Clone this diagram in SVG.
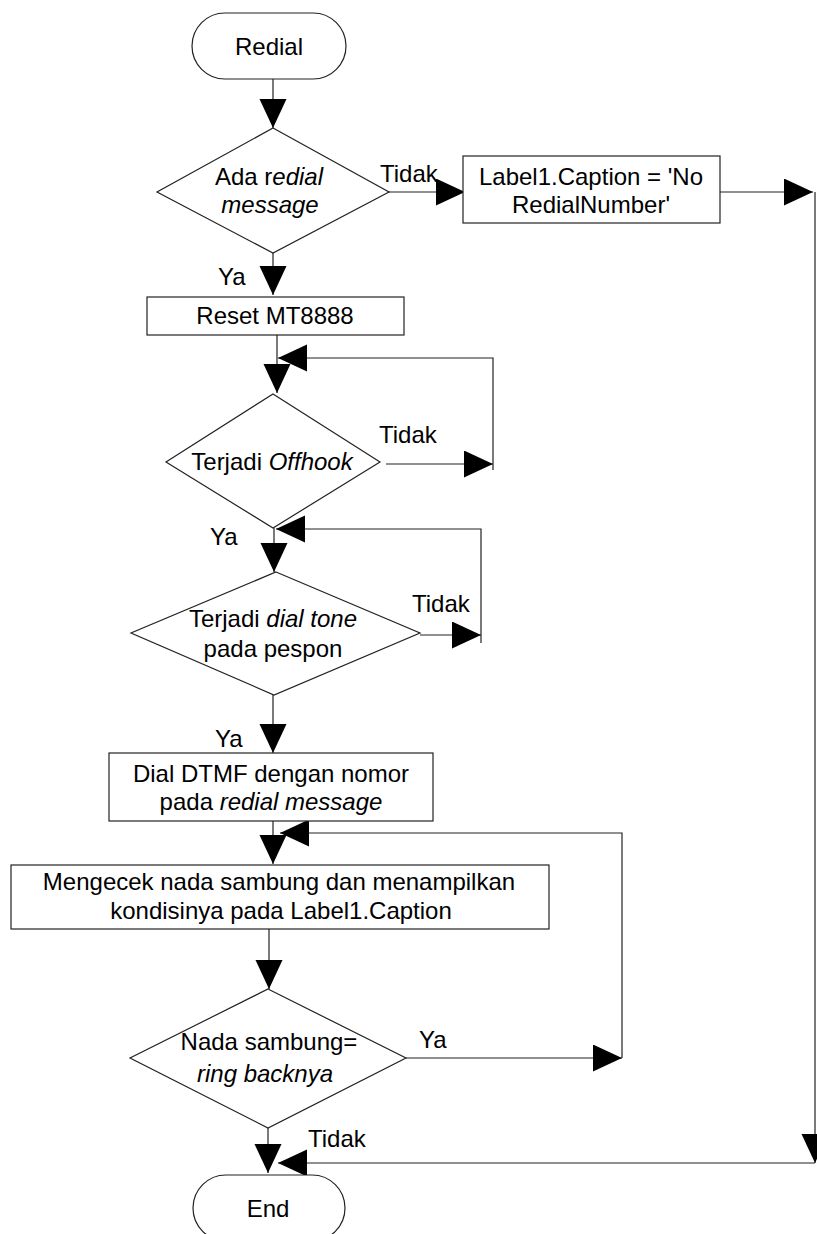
<svg xmlns="http://www.w3.org/2000/svg" width="817" height="1234" viewBox="0 0 817 1234">
<style>
.shape{fill:#fff;stroke:#222;stroke-width:1.2}
.line{fill:none;stroke:#222;stroke-width:1.2}
text{font-family:"Liberation Sans",Arial,sans-serif;font-size:24px;fill:#000}
.c{text-anchor:middle}
.i{font-style:italic}
</style>
<defs>
<marker id="ah" markerUnits="userSpaceOnUse" markerWidth="30" markerHeight="28" refX="29" refY="13.5" orient="auto">
<path d="M0,0 L29,13.5 L0,27 Z" fill="#000"/>
</marker>
</defs>
<rect width="817" height="1234" fill="#fff"/>
<g id="connectors">
<path class="line" d="M273,79 V128" marker-end="url(#ah)"/>
<path class="line" d="M389,192 H465" marker-end="url(#ah)"/>
<path class="line" d="M720,192 H813" marker-end="url(#ah)"/>
<path class="line" d="M815,192 V1163" marker-end="url(#ah)"/>
<path class="line" d="M815,1163 H278" marker-end="url(#ah)"/>
<path class="line" d="M273,253 V295" marker-end="url(#ah)"/>
<path class="line" d="M277,335 V393" marker-end="url(#ah)"/>
<path class="line" d="M386,464 H493" marker-end="url(#ah)"/>
<path class="line" d="M493,470 V358 H278" marker-end="url(#ah)"/>
<path class="line" d="M274,528 V572" marker-end="url(#ah)"/>
<path class="line" d="M420,635 H481" marker-end="url(#ah)"/>
<path class="line" d="M481,643 V529 H276" marker-end="url(#ah)"/>
<path class="line" d="M273,695 V753" marker-end="url(#ah)"/>
<path class="line" d="M273,821 V864" marker-end="url(#ah)"/>
<path class="line" d="M622,1058 V833 H280" marker-end="url(#ah)"/>
<path class="line" d="M269,929 V989" marker-end="url(#ah)"/>
<path class="line" d="M406,1058 H622" marker-end="url(#ah)"/>
<path class="line" d="M268,1128 V1173" marker-end="url(#ah)"/>
<text x="380" y="182">Tidak</text>
<text x="218" y="285">Ya</text>
<text x="379" y="443">Tidak</text>
<text x="210" y="545">Ya</text>
<text x="412" y="612">Tidak</text>
<text x="215" y="747">Ya</text>
<text x="419" y="1048">Ya</text>
<text x="308" y="1147">Tidak</text>
</g>
<g id="start">
<rect class="shape" x="192" y="13" width="154" height="66" rx="33"/>
<text class="c" x="269" y="55">Redial</text>
</g>
<g id="d1">
<path class="shape" d="M273,128 L389,192 L273,253 L157,192 Z"/>
<text class="c" x="269" y="185">Ada r<tspan class="i">edial</tspan></text>
<text class="c i" x="270" y="213">message</text>
</g>
<g id="noredial">
<rect class="shape" x="463" y="156" width="257" height="67"/>
<text class="c" x="591" y="185">Label1.Caption = 'No</text>
<text class="c" x="591" y="213">RedialNumber'</text>
</g>
<g id="reset">
<rect class="shape" x="147" y="297" width="257" height="38"/>
<text class="c" x="275" y="324">Reset MT8888</text>
</g>
<g id="d2">
<path class="shape" d="M273,394 L380,462 L273,528 L166,462 Z"/>
<text class="c" x="272" y="470">Terjadi <tspan class="i">Offhook</tspan></text>
</g>
<g id="d3">
<path class="shape" d="M276,572 L420,633 L274,695 L131,633 Z"/>
<text class="c" x="273" y="627">Terjadi <tspan class="i">dial tone</tspan></text>
<text class="c" x="273" y="657">pada pespon</text>
</g>
<g id="dial">
<rect class="shape" x="109" y="753" width="324" height="68"/>
<text class="c" x="271" y="782">Dial DTMF dengan nomor</text>
<text class="c" x="271" y="810">pada <tspan class="i">redial message</tspan></text>
</g>
<g id="cek">
<rect class="shape" x="11" y="865" width="538" height="64"/>
<text class="c" x="279" y="890">Mengecek nada sambung dan menampilkan</text>
<text class="c" x="281" y="919">kondisinya pada Label1.Caption</text>
</g>
<g id="d4">
<path class="shape" d="M268,989 L406,1058 L268,1128 L130,1058 Z"/>
<text class="c" x="269" y="1050">Nada sambung=</text>
<text class="c i" x="265" y="1082">ring backnya</text>
</g>
<g id="end">
<rect class="shape" x="193" y="1175" width="152" height="66" rx="33"/>
<text class="c" x="268" y="1217">End</text>
</g>
</svg>
